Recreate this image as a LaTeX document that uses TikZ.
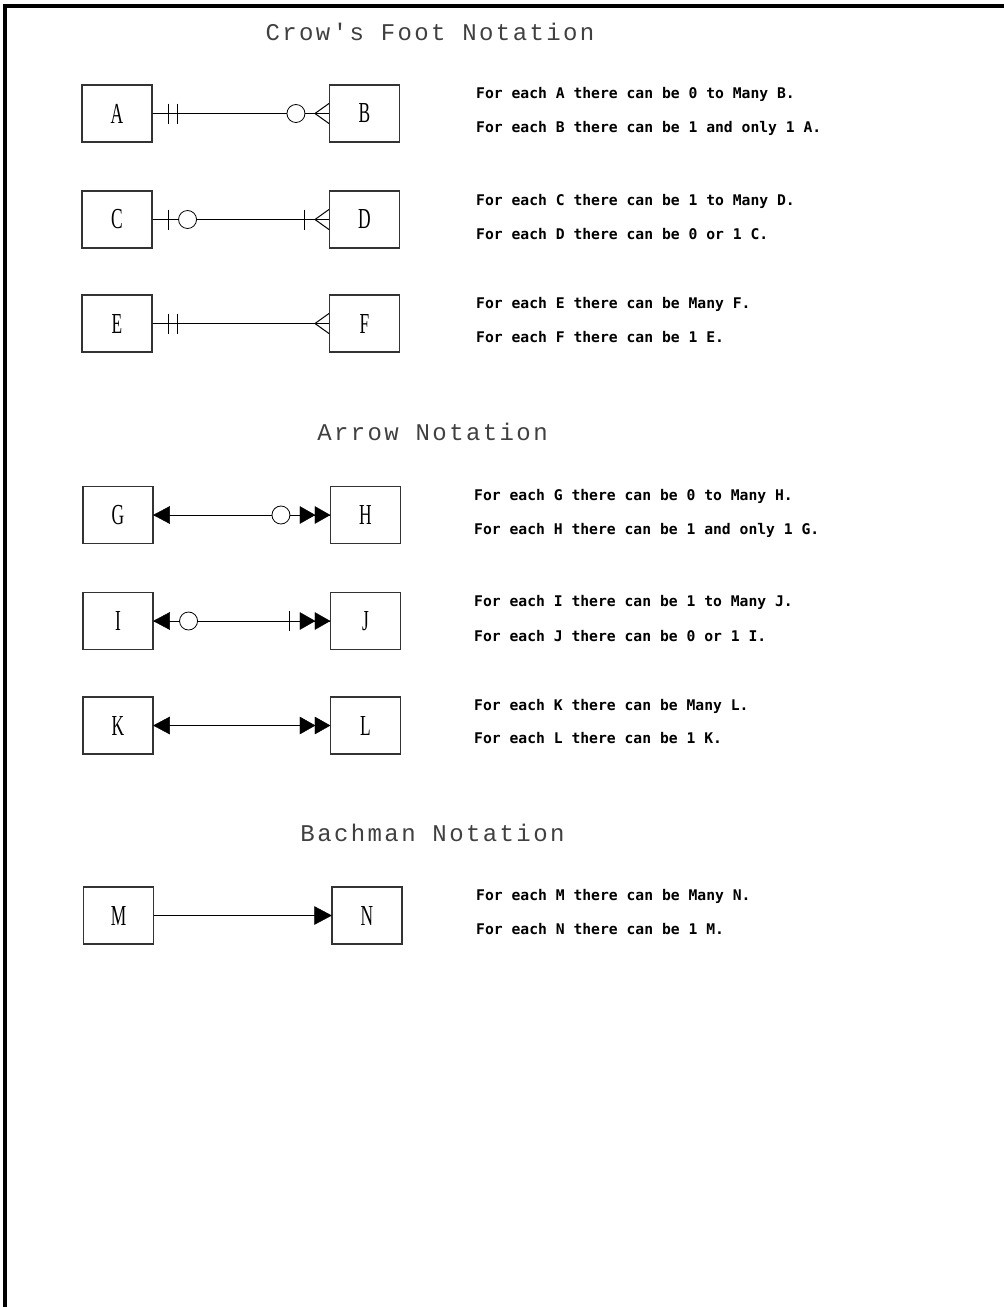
\documentclass[tikz,border=0pt]{standalone}
\usepackage{fontspec}
\usetikzlibrary{calc}
\newfontfamily\txtfont{DejaVu Sans Mono}
\newfontfamily\ttlfont[LetterSpace=10]{Liberation Mono}
\newfontfamily\letfont{Liberation Serif}
\tikzset{
  ebox/.style={draw=black!80, line width=1.1pt, minimum width=70pt, minimum height=57pt, inner sep=0pt,
    font=\fontsize{29}{29}\letfont},
  conn/.style={draw=black, line width=1pt},
  tickline/.style={draw=black, line width=1pt},
  ring/.style={draw=black, line width=0.8pt, fill=white},
  tri/.style={fill=black, draw=black, line width=0.4pt},
  desc/.style={anchor=west, inner sep=0pt, font=\fontsize{14.7}{14.7}\bfseries\txtfont},
  ttl/.style={inner sep=0pt, text=black!75, font=\fontsize{24}{24}\ttlfont},
}
\newcommand{\lt}[1]{\scalebox{0.6}[1]{#1}}
\begin{document}
\begin{tikzpicture}[x=1pt,y=-1pt]
\useasboundingbox (0,0) rectangle (1004,1307);
\fill[white] (0,0) rectangle (1004,1307);
\draw[line width=4pt] (5,1307) -- (5,5.5) -- (1004,5.5);

% ---------- Crow's Foot ----------
\node[ttl] (t1) at (430,32) {Crow's Foot Notation};

\node[ebox] (A) at (117,113.5) {\lt{A}};
\node[ebox] (B) at (364.5,113.5) {\lt{B}};
\draw[conn] (A) -- (B);
\draw[tickline] ($(A.east)+(16,-10)$) -- ++(0,20);
\draw[tickline] ($(A.east)+(25,-10)$) -- ++(0,20);
\draw[tickline] ($(B.west)+(0,-10)$) -- ($(B.west)+(-14,0)$) -- ($(B.west)+(0,10)$);
\draw[ring] ($(B.west)+(-33,0)$) circle (9);
\node[desc] (dA1) at (476,94) {For each A there can be 0 to Many B.};
\node[desc] (dA2) at (476,128) {For each B there can be 1 and only 1 A.};

\node[ebox] (C) at (117,219.5) {\lt{C}};
\node[ebox] (D) at (364.5,219.5) {\lt{D}};
\draw[conn] (C) -- (D);
\draw[tickline] ($(C.east)+(16,-10)$) -- ++(0,20);
\draw[ring] ($(C.east)+(35,0)$) circle (9);
\draw[tickline] ($(D.west)+(-24,-10)$) -- ++(0,20);
\draw[tickline] ($(D.west)+(0,-10)$) -- ($(D.west)+(-14,0)$) -- ($(D.west)+(0,10)$);
\node[desc] (dC1) at (476,201) {For each C there can be 1 to Many D.};
\node[desc] (dC2) at (476,234) {For each D there can be 0 or 1 C.};

\node[ebox] (E) at (117,323.5) {\lt{E}};
\node[ebox] (F) at (364.5,323.5) {\lt{F}};
\draw[conn] (E) -- (F);
\draw[tickline] ($(E.east)+(16,-10)$) -- ++(0,20);
\draw[tickline] ($(E.east)+(25,-10)$) -- ++(0,20);
\draw[tickline] ($(F.west)+(0,-10)$) -- ($(F.west)+(-14,0)$) -- ($(F.west)+(0,10)$);
\node[desc] (dE1) at (476,304) {For each E there can be Many F.};
\node[desc] (dE2) at (476,337) {For each F there can be 1 E.};

% ---------- Arrow ----------
\node[ttl] (t2) at (432.5,432) {Arrow Notation};

\node[ebox] (G) at (118,515) {\lt{G}};
\node[ebox] (H) at (365.5,515) {\lt{H}};
\draw[conn] (G) -- (H);
\filldraw[tri] (G.east) -- ($(G.east)+(16,-8.5)$) -- ($(G.east)+(16,8.5)$) -- cycle;
\draw[ring] ($(H.west)+(-49,0)$) circle (9);
\filldraw[tri] ($(H.west)+(-15,0)$) -- ($(H.west)+(-30,-8.5)$) -- ($(H.west)+(-30,8.5)$) -- cycle;
\filldraw[tri] (H.west) -- ($(H.west)+(-15,-8.5)$) -- ($(H.west)+(-15,8.5)$) -- cycle;
\node[desc] (dG1) at (474,496) {For each G there can be 0 to Many H.};
\node[desc] (dG2) at (474,530) {For each H there can be 1 and only 1 G.};

\node[ebox] (I) at (118,621) {\lt{I}};
\node[ebox] (J) at (365.5,621) {\lt{J}};
\draw[conn] (I) -- (J);
\filldraw[tri] (I.east) -- ($(I.east)+(16,-8.5)$) -- ($(I.east)+(16,8.5)$) -- cycle;
\draw[ring] ($(I.east)+(35,0)$) circle (9);
\draw[tickline] ($(J.west)+(-40,-10)$) -- ++(0,20);
\filldraw[tri] ($(J.west)+(-15,0)$) -- ($(J.west)+(-30,-8.5)$) -- ($(J.west)+(-30,8.5)$) -- cycle;
\filldraw[tri] (J.west) -- ($(J.west)+(-15,-8.5)$) -- ($(J.west)+(-15,8.5)$) -- cycle;
\node[desc] (dI1) at (474,602) {For each I there can be 1 to Many J.};
\node[desc] (dI2) at (474,636) {For each J there can be 0 or 1 I.};

\node[ebox] (K) at (118,725.5) {\lt{K}};
\node[ebox] (L) at (365.5,725.5) {\lt{L}};
\draw[conn] (K) -- (L);
\filldraw[tri] (K.east) -- ($(K.east)+(16,-8.5)$) -- ($(K.east)+(16,8.5)$) -- cycle;
\filldraw[tri] ($(L.west)+(-15,0)$) -- ($(L.west)+(-30,-8.5)$) -- ($(L.west)+(-30,8.5)$) -- cycle;
\filldraw[tri] (L.west) -- ($(L.west)+(-15,-8.5)$) -- ($(L.west)+(-15,8.5)$) -- cycle;
\node[desc] (dK1) at (474,706) {For each K there can be Many L.};
\node[desc] (dK2) at (474,738) {For each L there can be 1 K.};

% ---------- Bachman ----------
\node[ttl] (t3) at (432.5,833) {Bachman Notation};

\node[ebox] (M) at (118.5,915.5) {\lt{M}};
\node[ebox] (N) at (367,915.5) {\lt{N}};
\draw[conn] (M) -- (N);
\filldraw[tri] (N.west) -- ($(N.west)+(-17,-9)$) -- ($(N.west)+(-17,9)$) -- cycle;
\node[desc] (dM1) at (476,896) {For each M there can be Many N.};
\node[desc] (dM2) at (476,929) {For each N there can be 1 M.};
\end{tikzpicture}
\end{document}
